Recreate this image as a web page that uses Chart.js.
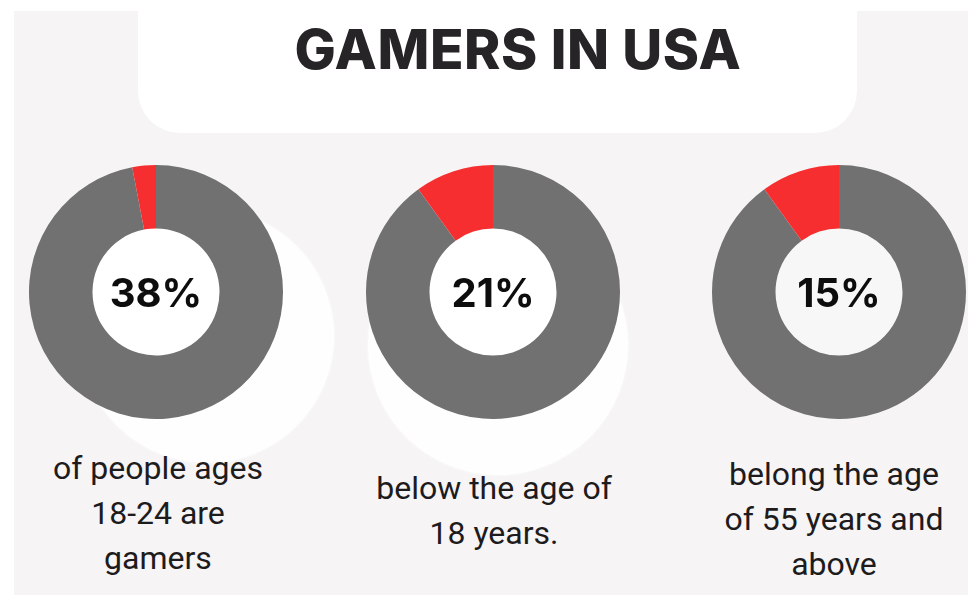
<!DOCTYPE html>
<html>
<head>
<meta charset="utf-8">
<script src="https://cdn.jsdelivr.net/npm/chart.js@4/dist/chart.umd.min.js"></script>
<style>
  html, body { margin: 0; padding: 0; background: #fff; }
  #page { position: relative; width: 968px; height: 595px; overflow: hidden; }
  .panel { position: absolute; left: 14px; top: 11px; right: 0; bottom: 0; background: #f6f4f5; }
  .header { position: absolute; left: 138px; top: -60px; width: 719px; height: 193px; background: #fff; border-radius: 42px; }
  .title { position: absolute; left: 0; width: 1036px; top: 22px; text-align: center; font: 800 55px Inter, sans-serif; color: #262426; line-height: 55px; letter-spacing: 0.6px; }
  .glow { position: absolute; border-radius: 50%; background: #fefefe; box-shadow: 0 0 3px #fefefe; }
  .ring { position: absolute; width: 254px; height: 254px; top: 165px; }
  .pct { position: absolute; width: 254px; top: 165px; height: 254px; display: flex; align-items: center; justify-content: center; font: 700 40px Inter, sans-serif; color: #0d0d0d; }
  .caption { position: absolute; width: 320px; text-align: center; font: 400 32px Roboto, sans-serif; line-height: 45px; color: #1d1b1c; }
</style>
</head>
<body>
<div id="page">
  <div class="panel"></div>
  <div class="header"></div>
  <div class="title">GAMERS IN USA</div>
  <div class="glow" style="left:80px; top:209px; width:254px; height:254px;"></div>
  <div class="glow" style="left:368px; top:215px; width:260px; height:260px;"></div>
</div>
<script>
// headline figures and the text under each ring
const percentLabels = ['38%', '21%', '15%'];
const captions = [
  ['of people ages', '18-24 are', 'gamers'],
  ['below the age of', '18 years.'],
  ['belong the age', 'of 55 years and', 'above']
];
// size of the red wedge in each ring (percent of the circle)
const redShare = [3, 10, 10];
const ringCenters = [156, 493, 839];
const captionCenters = [158, 494, 834];
const captionTops = [446, 466, 452];
const holeColors = ['#ffffff', '#ffffff', '#f8f7f7'];

const page = document.getElementById('page');

// paints the doughnut hole
const holeFill = {
  id: 'holeFill',
  beforeDatasetsDraw(chart, args, opts) {
    const arc = chart.getDatasetMeta(0).data[0];
    if (!arc) return;
    const ctx = chart.ctx;
    ctx.save();
    ctx.beginPath();
    ctx.arc(arc.x, arc.y, arc.innerRadius, 0, Math.PI * 2);
    ctx.fillStyle = opts.color;
    ctx.fill();
    ctx.restore();
  }
};

percentLabels.forEach((label, i) => {
  const cx = ringCenters[i];

  const canvas = document.createElement('canvas');
  canvas.className = 'ring';
  canvas.width = 254;
  canvas.height = 254;
  canvas.style.left = (cx - 127) + 'px';
  page.appendChild(canvas);

  new Chart(canvas.getContext('2d'), {
    type: 'doughnut',
    data: {
      labels: ['Rest', 'Highlight'],
      datasets: [{
        data: [100 - redShare[i], redShare[i]],
        backgroundColor: ['#717171', '#f72e2f'],
        borderWidth: 0,
        hoverOffset: 0
      }]
    },
    options: {
      responsive: false,
      animation: false,
      cutout: '50%',
      layout: { padding: 0 },
      events: [],
      plugins: {
        legend: { display: false },
        tooltip: { enabled: false },
        holeFill: { color: holeColors[i] }
      }
    },
    plugins: [holeFill]
  });

  const pct = document.createElement('div');
  pct.className = 'pct';
  pct.style.left = (cx - 127) + 'px';
  pct.textContent = label;
  page.appendChild(pct);

  const cap = document.createElement('div');
  cap.className = 'caption';
  cap.style.left = (captionCenters[i] - 160) + 'px';
  cap.style.top = captionTops[i] + 'px';
  cap.innerHTML = captions[i].join('<br>');
  page.appendChild(cap);
});
</script>
</body>
</html>
